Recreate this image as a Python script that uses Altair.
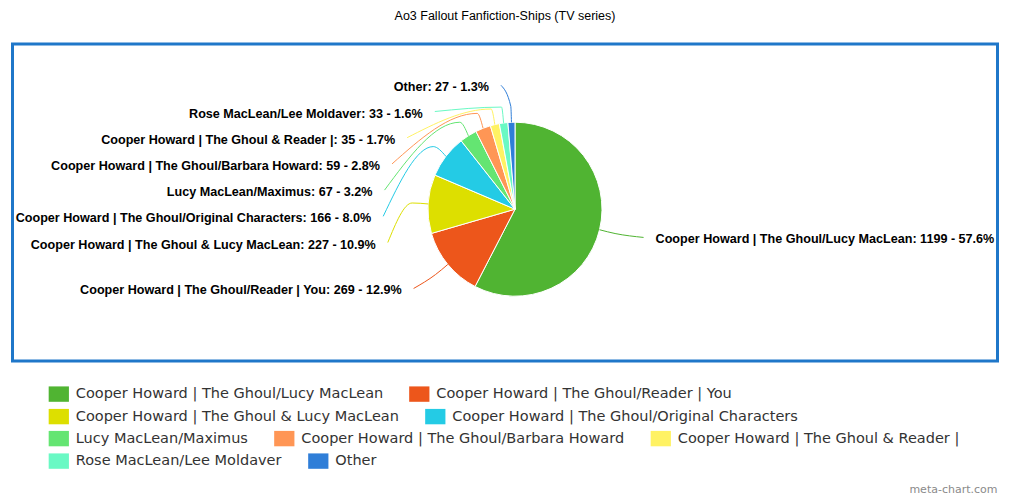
import math
import altair as alt
import pandas as pd

# ---------------- data ----------------
names = [
    "Cooper Howard | The Ghoul/Lucy MacLean",
    "Cooper Howard | The Ghoul/Reader | You",
    "Cooper Howard | The Ghoul & Lucy MacLean",
    "Cooper Howard | The Ghoul/Original Characters",
    "Lucy MacLean/Maximus",
    "Cooper Howard | The Ghoul/Barbara Howard",
    "Cooper Howard | The Ghoul & Reader |",
    "Rose MacLean/Lee Moldaver",
    "Other",
]
values = [1199, 269, 227, 166, 67, 59, 35, 33, 27]
palette = ["#50B432", "#ED561B", "#DDDF00", "#24CBE5", "#64E572",
           "#FF9655", "#FFF263", "#6AF9C4", "#2F7ED8"]
title_text = "Ao3 Fallout Fanfiction-Ships (TV series)"
watermark = "meta-chart.com"
legend_rows = [names[0:2], names[2:4], names[4:7], names[7:9]]

# ---------------- layout parameters ----------------
W, H = 985, 317          # framed plot area
CX, CY = 502.5, 165.2    # pie centre inside the frame
R_PIE = 87
R_ELBOW = 103
R_X = 118
R_Y = 128
END_PAD = 14
TEXT_GAP = 12
SLOT = 26.2
TOP_BOUND, BOTTOM_BOUND = -135, 150

total = sum(values)
recs = []
cum = 0
for i, (n, v) in enumerate(zip(names, values)):
    s = cum / total
    cum += v
    e = cum / total
    mid = (s + e) / 2 * 2 * math.pi
    recs.append(dict(idx=i, name=n, value=v, pct=100 * v / total, mid=mid,
                     side="right" if math.sin(mid) > 0 else "left",
                     natural=-R_Y * math.cos(mid)))


def distribute(targets, slot, lo, hi):
    groups = [[t] for t in targets]

    def place(g):
        size = len(g) * slot
        st = sum(g) / len(g) - size / 2
        return max(lo, min(st, hi - size))

    changed = True
    while changed:
        changed = False
        starts = [place(g) for g in groups]
        for k in range(len(groups) - 1):
            if starts[k] + len(groups[k]) * slot > starts[k + 1] + 1e-9:
                groups[k] = groups[k] + groups[k + 1]
                del groups[k + 1]
                changed = True
                break
    out = []
    for g in groups:
        st = place(g)
        out += [st + slot * (j + 0.5) for j in range(len(g))]
    return out


for side in ("left", "right"):
    items = sorted([r for r in recs if r["side"] == side], key=lambda r: r["natural"])
    ys_ = distribute([r["natural"] for r in items], SLOT, TOP_BOUND, BOTTOM_BOUND)
    for r, yv in zip(items, ys_):
        r["label_y"] = yv

line_rows = []
for r in recs:
    sign = 1 if r["side"] == "right" else -1
    end_y = r["label_y"] - 2
    end_x = sign * (math.sqrt(max(0.0, R_X ** 2 - end_y ** 2)) + END_PAD)
    r["text_x"] = end_x + sign * TEXT_GAP
    r["label"] = f"{r['name']}: {r['value']} - {r['pct']:.1f}%"
    pts = [
        (R_PIE * math.sin(r["mid"]), -R_PIE * math.cos(r["mid"])),
        (R_ELBOW * math.sin(r["mid"]), -R_ELBOW * math.cos(r["mid"])),
        (end_x, end_y),
    ]
    for k, (px, py) in enumerate(pts):
        line_rows.append(dict(name=r["name"], x=px, y=py, k=k))

pie_df = pd.DataFrame([{k: r[k] for k in ("idx", "name", "value")} for r in recs])
lab_df = pd.DataFrame([{k: r[k] for k in ("name", "label", "side", "text_x", "label_y")} for r in recs])
line_df = pd.DataFrame(line_rows)

# ---------------- scales ----------------
xs = alt.Scale(domain=[-CX, W - CX], nice=False, zero=False)
ys = alt.Scale(domain=[-CY, H - CY], reverse=True, nice=False, zero=False)
xaxis = alt.Axis(labels=False, ticks=False, domain=False, grid=False,
                 title=watermark, titleX=W - 0.5, titleY=128, titleAlign="right",
                 titleBaseline="middle", titleAngle=0, titleFont="DejaVu Sans",
                 titleFontSize=11, titleFontWeight="normal", titleColor="#8a8a8a")


def cscale():
    return alt.Scale(domain=names, range=palette)


pie = alt.Chart(pie_df).mark_arc(outerRadius=R_PIE, stroke="white", strokeWidth=1).encode(
    theta=alt.Theta("value:Q", stack=True),
    order=alt.Order("idx:Q", sort="ascending"),
    color=alt.Color("name:N", scale=cscale(), legend=None),
    x=alt.XDatum(0, type="quantitative", scale=xs, axis=xaxis),
    y=alt.YDatum(0, type="quantitative", scale=ys, axis=None),
)

lines = alt.Chart(line_df).mark_line(interpolate="monotone", strokeWidth=1).encode(
    x=alt.X("x:Q", scale=xs, axis=xaxis),
    y=alt.Y("y:Q", scale=ys, axis=None),
    color=alt.Color("name:N", scale=cscale(), legend=None),
    detail="name:N",
)


def text_layer(side, align):
    return alt.Chart(lab_df).transform_filter(alt.datum.side == side).mark_text(
        align=align, baseline="middle", font="Liberation Sans", fontWeight="bold",
        fontSize=12.6, color="#000000",
    ).encode(
        x=alt.X("text_x:Q", scale=xs, axis=xaxis),
        y=alt.Y("label_y:Q", scale=ys, axis=None),
        text="label:N",
    )


legend_y = [339.2, 361.7, 383.7, 406.2]


def ghost(row, ly):
    return alt.Chart(pie_df).mark_arc(outerRadius=0, innerRadius=0).encode(
        theta=alt.Theta("value:Q", stack=True),
        order=alt.Order("idx:Q", sort="ascending"),
        color=alt.Color("name:N", scale=cscale(), legend=alt.Legend(
            values=row, orient="none", legendX=35.8, legendY=ly,
            direction="horizontal", columns=len(row), title=None,
            symbolType="M-1,-0.76H1V0.76H-1Z", symbolSize=410,
            symbolStrokeWidth=0, symbolOpacity=1,
            labelFont="DejaVu Sans", labelFontSize=14.5, labelColor="#333333",
            labelLimit=600, labelOffset=6.5, columnPadding=25.5, padding=0,
        )),
    )


ghosts = [ghost(row, ly) for row, ly in zip(legend_rows, legend_y)]

chart = alt.layer(
    pie, lines, text_layer("left", "right"), text_layer("right", "left"), *ghosts
).resolve_scale(color="independent").resolve_legend(color="independent").properties(
    width=W, height=H,
    title=alt.TitleParams(title_text, font="Liberation Sans", fontSize=12.5,
                          fontWeight="normal", color="#000000", offset=22,
                          anchor="middle"),
    padding={"left": 4.5, "top": 1, "right": 4, "bottom": 0},
    background="white",
).configure_view(stroke="#1f77c9", strokeWidth=3)

chart.save("out.html", embed_options={"renderer": "svg", "actions": False})
